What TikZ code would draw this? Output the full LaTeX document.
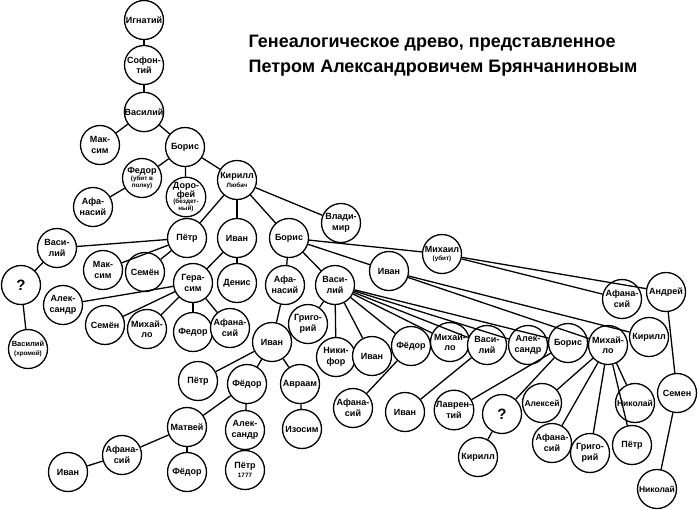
\documentclass[tikz,border=0pt]{standalone}
\usepackage{fontspec}
\setmainfont{Liberation Sans}
\newcommand{\tinytxt}[1]{{\fontsize{6.3}{7}\selectfont #1}}
\begin{document}
\begin{tikzpicture}[x=1pt,y=-1pt,line width=1.3pt]
\tikzstyle{every node}=[draw,circle,minimum size=39pt,inner sep=0pt,fill=white,align=center,font=\bfseries\fontsize{9}{10.5}\selectfont]
\tikzstyle{qmark}=[font=\bfseries\fontsize{15}{15}\selectfont]
\useasboundingbox (0,0) rectangle (700,509);

\node[draw=none,fill=none,rectangle,anchor=west,align=left,inner sep=0pt,font=\bfseries\fontsize{18}{25}\selectfont] (title) at (248,55.5) {Генеалогическое древо, представленное\\Петром Александровичем Брянчаниновым};

\node (p1) at (144,20) {Игнатий};
\node (p2) at (144,65) {Софон-\\тий};
\node (p3) at (144,112) {Василий};
\node (p4) at (100,145) {Мак-\\сим};
\node (p5) at (185,147) {Борис};
\node (p6) at (142,178) {Федор\\[-3pt]\tinytxt{(убит в}\\[-3.5pt]\tinytxt{полку)}};
\node (p7) at (93,207) {Афа-\\насий};
\node (p8) at (186,197) {Доро-\\[-1.5pt]фей\\[-4pt]\tinytxt{(бездет-}\\[-3.5pt]\tinytxt{ный)}};
\node (p9) at (237,180) {Кирилл\\[-2pt]\tinytxt{Любач}};
\node (p10) at (341,223) {Влади-\\мир};
\node (p11) at (187,238) {Пётр};
\node (p12) at (237,238) {Иван};
\node (p13) at (289,238) {Борис};
\node (p14) at (57,248) {Васи-\\лий};
\node[qmark] (p15) at (21,285) {?};
\node (p16) at (28,349) {\fontsize{7.5}{8}\selectfont Василий\\[-2pt]\tinytxt{(хромой)}};
\node (p17) at (103,270) {Мак-\\сим};
\node (p18) at (145,272) {Семён};
\node (p19) at (193,283) {Гера-\\сим};
\node (p20) at (237,283) {Денис};
\node (p21) at (63,305) {Алек-\\сандр};
\node (p22) at (105,325) {Семён};
\node (p23) at (147,329) {Михай-\\ло};
\node (p24) at (193,332) {Федор};
\node (p25) at (230,328) {Афана-\\сий};
\node (p26) at (285,285) {Афа-\\насий};
\node (p27) at (335,285) {Васи-\\лий};
\node (p28) at (389,271) {Иван};
\node (p29) at (442,254) {Михаил\\[-2pt]\tinytxt{(убит)}};
\node (p30) at (622,299) {Афана-\\сий};
\node (p31) at (666,292) {Андрей};
\node (p32) at (649,337) {Кирилл};
\node (p33) at (308,324) {Григо-\\рий};
\node (p34) at (336,357) {Ники-\\фор};
\node (p35) at (372,356) {Иван};
\node (p36) at (411,346) {Фёдор};
\node (p37) at (450,342) {Михай-\\ло};
\node (p38) at (487,345) {Васи-\\лий};
\node (p39) at (528,345) {Алек-\\сандр};
\node (p40) at (568,343) {Борис};
\node (p41) at (608,345) {Михай-\\ло};
\node (p42) at (272,342) {Иван};
\node (p43) at (198,381) {Пётр};
\node (p44) at (247,384) {Фёдор};
\node (p45) at (300,384) {Авраам};
\node (p46) at (187,427) {Матвей};
\node (p47) at (245,430) {Алек-\\сандр};
\node (p48) at (302,429) {Изосим};
\node (p49) at (122,455) {Афана-\\сий};
\node (p50) at (68,472) {Иван};
\node (p51) at (187,472) {Фёдор};
\node (p52) at (245,470) {Пётр\\[-2pt]\tinytxt{1777}};
\node (p53) at (353,408) {Афана-\\сий};
\node (p54) at (405,412) {Иван};
\node (p55) at (454,410) {Лаврен-\\тий};
\node[qmark] (p56) at (502,414) {?};
\node (p57) at (478,457) {Кирилл};
\node (p58) at (542,403) {\fontsize{8.5}{9}\selectfont Алексей};
\node (p59) at (552,443) {Афана-\\сий};
\node (p60) at (590,453) {Григо-\\рий};
\node (p61) at (632,445) {Пётр};
\node (p62) at (635,403) {\fontsize{8.5}{9}\selectfont Николай};
\node (p63) at (677,393) {Семен};
\node (p64) at (657,489) {\fontsize{8.5}{9}\selectfont Николай};

\draw (p1) -- (p2);
\draw (p2) -- (p3);
\draw (p3) edge (p4) edge (p5);
\draw (p5) edge (p6) edge (p8) edge (p9);
\draw (p6) -- (p7);
\draw (p9) edge (p10) edge (p11) edge (p12) edge (p13);
\draw (p11) edge (p14) edge (p17) edge (p18);
\draw (p14) -- (p15);
\draw (p15) -- (p16);
\draw (p12) edge (p19) edge (p20);
\draw (p19) edge (p21) edge (p22) edge (p23) edge (p24) edge (p25);
\draw (p13) edge (p26) edge (p27) edge (p28) edge (p29);
\draw (p29) edge (p30) edge (p31);
\draw (p28) edge (p32) edge (p41);
\draw (p27) edge (p33) edge (p34) edge (p35) edge (p36) edge (p37) edge (p38) edge (p39) edge (p40);
\draw (p26) -- (p42);
\draw (p42) edge (p43) edge (p44) edge (p45);
\draw (p44) edge (p46) edge (p47);
\draw (p45) -- (p48);
\draw (p46) edge (p49) edge (p51);
\draw (p49) -- (p50);
\draw (p47) -- (p52);
\draw (p36) -- (p53);
\draw (p38) -- (p54);
\draw (p40) edge (p55) edge (p56);
\draw (p56) -- (p57);
\draw (p41) edge (p58) edge (p59) edge (p60) edge (p61) edge (p62);
\draw (p31) -- (p63);
\draw (p63) -- (p64);
\end{tikzpicture}
\end{document}
